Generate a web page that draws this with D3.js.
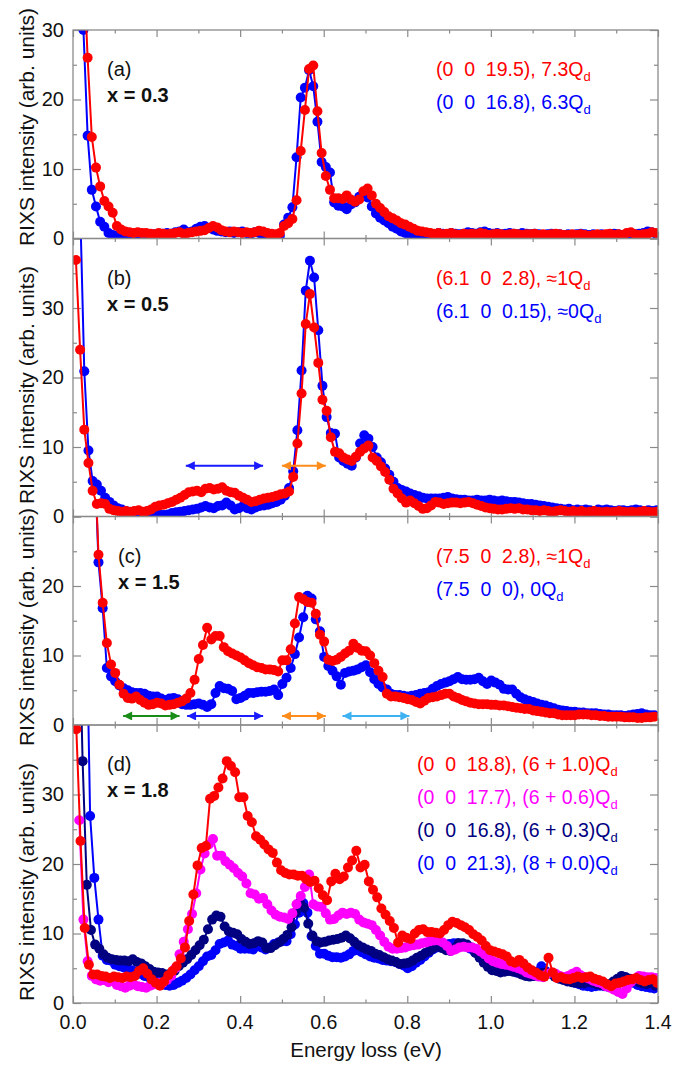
<!DOCTYPE html>
<html>
<head>
<meta charset="utf-8">
<script src="https://cdnjs.cloudflare.com/ajax/libs/d3/7.8.5/d3.min.js"></script>
<style>
  body { margin: 0; background: #fff; }
  text { font-family: "Liberation Sans", Arial, sans-serif; }
</style>
</head>
<body>
<svg id="chart" width="700" height="1066"></svg>
<script>
var STEP = 0.01;

// (a) x = 0.3
var aRedStart = 0.025;
var aRed = [40, 26, 14.6, 10.2, 7.5, 5.4, 4.6, 3.7, 1.8, 1.3,
  1.0, 0.9, 0.8, 0.9, 0.8, 0.8, 0.7, 0.6, 0.8, 0.7,
  0.6, 0.7, 0.8, 0.9, 0.7, 0.8, 0.9, 1.0, 1.1, 1.2,
  1.5, 1.8, 1.6, 1.2, 1.0, 0.9, 1.0, 0.9, 0.8, 0.9,
  0.8, 0.9, 1.1, 1.0, 0.8, 0.7, 0.6, 0.8, 1.8, 2.2,
  2.8, 5.5, 12.6, 18.5, 24.4, 24.9, 18.3, 12.3, 9.0, 7.0,
  5.8, 5.8, 5.7, 6.2, 5.6, 5.3, 5.6, 6.8, 7.2, 6.2,
  5.0, 4.4, 3.8, 3.2, 2.9, 2.6, 2.2, 2.0, 1.7, 1.4,
  1.1, 1.0, 0.9, 0.8,
  0.7, 0.8, 0.6, 0.7, 0.8, 0.6, 0.5, 0.7, 0.6, 0.7,
  0.6, 0.8, 0.7, 0.5, 0.6, 0.7, 0.6, 0.5, 0.6, 0.7,
  0.6, 0.5, 0.6, 0.6, 0.7, 0.5, 0.6, 0.5, 0.6, 0.7,
  0.6, 0.5, 0.5, 0.6, 0.5, 0.6, 0.5, 0.4, 0.5, 0.6,
  0.5, 0.6, 0.7, 0.5, 0.6, 0.5, 0.8, 0.9, 0.6, 0.5,
  0.6, 0.7, 0.9, 0.8];
var aBlueStart = 0.015;
var aBlue = [60, 30, 14.8, 7.0, 4.6, 2.4, 1.7, 0.8, 0.5, 0.4,
  0.3, 0.4, 0.3, 0.5, 0.4, 0.3, 0.4, 0.5, 0.6, 0.5,
  0.7, 0.8, 0.7, 0.9, 1.0, 1.3, 0.9, 1.0, 1.4, 1.7,
  1.8, 1.5, 1.3, 1.1, 1.0, 0.9, 1.0, 0.8, 0.9, 1.0,
  0.8, 0.7, 0.9, 0.8, 0.6, 0.7, 0.5, 0.4, 0.4, 2.0,
  3.0, 4.5, 11.7, 20.3, 21.7, 24.2, 21.9, 16.8, 11.0, 10.3,
  9.5, 5.2, 4.7, 4.6, 4.2, 4.9, 5.2, 6.0, 6.4, 5.9,
  4.6, 3.6, 3.0, 2.6, 2.2, 1.7, 1.4, 1.0, 0.8, 0.5,
  0.4, 0.2, 0.3, 0.5,
  0.7, 0.6, 0.8, 0.7, 0.6, 0.8, 0.7, 0.6, 0.7, 0.9,
  0.8, 0.7, 0.9, 1.0, 0.8, 0.7, 0.8, 0.6, 0.7, 0.8,
  0.7, 0.6, 0.8, 0.7, 0.6, 0.7, 0.6, 0.5, 0.6, 0.7,
  0.6, 0.6, 0.5, 0.6, 0.5, 0.6, 0.7, 0.6, 0.5, 0.6,
  0.5, 0.6, 0.5, 0.6, 0.7, 0.6, 0.5, 0.6, 0.5, 0.6,
  0.7, 0.8, 1.0, 0.9, 0.7];

// (b) x = 0.5
var bRedStart = 0.007;
var bRed = [36.9, 24.0, 12.5, 7.7, 3.7, 1.8, 1.9, 1.8, 1.1, 0.9,
  0.8, 0.7, 0.8, 0.7, 0.8, 0.9, 0.7, 0.8, 1.0, 1.4,
  1.6, 1.7, 1.9, 2.1, 2.4, 2.7, 3.1, 3.5, 3.6, 3.7,
  3.5, 4.0, 4.1, 3.9, 4.0, 4.2, 3.7, 3.5, 3.4, 3.0,
  2.7, 2.4, 2.1, 2.2, 2.4, 2.6, 2.7, 2.8, 3.0, 3.2,
  3.3, 3.6, 5.7, 10.5, 17.7, 27.7, 32.0, 27.2, 22.1, 16.8,
  15.2, 11.4, 9.3, 9.1, 8.5, 8.2, 8.0, 8.6, 9.3, 9.8,
  10.2, 8.5, 8.0, 7.2, 6.4, 5.3, 4.0, 3.3, 2.6, 2.0,
  2.3, 1.9, 1.5, 1.1, 1.2, 1.6, 2.1, 2.0, 1.8, 1.9,
  2.0, 2.0, 1.9, 2.0, 2.1, 1.9, 1.7, 1.5, 1.3, 1.2,
  1.1, 1.0, 1.0, 1.1, 1.2, 1.1, 1.2, 1.0, 1.0, 0.9,
  0.9, 0.8, 0.9, 0.8, 0.7, 0.8, 0.9, 0.8, 0.7, 0.8,
  0.7, 0.8, 0.6, 0.7, 0.8, 0.7, 0.6, 0.7, 0.6, 0.7,
  0.8, 0.7, 0.6, 0.7, 0.6, 0.7, 0.8, 0.7, 0.6, 0.7];
var bBlueStart = 0.017;
var bBlue = [45, 20.9, 9.5, 5.1, 4.6, 3.7, 2.7, 2.1, 1.6, 1.2,
  1.0, 0.8, 0.6, 0.7, 0.5, 0.6, 0.5, 0.4, 0.5, 0.3,
  0.2, 0.3, 0.5, 0.6, 0.7, 0.8, 0.9, 1.0, 1.1, 1.3,
  1.5, 1.3, 1.2, 1.5, 1.6, 2.0, 1.6, 1.0, 1.2, 1.5,
  1.2, 1.0, 1.3, 1.5, 1.6, 1.7, 1.9, 2.1, 2.4, 3.0,
  4.1, 6.5, 12.4, 21.0, 32.5, 36.8, 34.4, 26.8, 18.8, 14.3,
  12.0, 11.9, 8.5, 8.0, 7.6, 7.3, 8.5, 10.5, 11.7, 11.2,
  10.0, 8.5, 7.8, 6.9, 6.0, 5.0, 4.1, 3.8, 3.6, 3.3,
  3.1, 2.9, 2.7, 2.6, 2.6, 2.6, 2.6, 2.7, 2.8, 2.6,
  2.5, 2.4, 2.4, 2.3, 2.3, 2.4, 2.3, 2.3, 2.4, 2.3,
  2.2, 2.3, 2.2, 2.1, 2.1, 2.0, 1.9, 1.8, 1.8, 1.7,
  1.6, 1.5, 1.4, 1.3, 1.2,
  1.1, 1.0, 1.1, 0.9, 1.0, 0.9, 1.0, 0.9, 0.8, 1.0,
  0.9, 1.0, 0.9, 0.8, 0.9, 0.9, 0.8, 0.9, 1.0, 0.9,
  0.8, 0.9, 0.8, 0.9];

// (c) x = 1.5
var cRedStart = 0.051;
var cRed = [40, 24.5, 17.6, 11.8, 8.7, 7.5, 5.8, 4.5, 3.9, 3.8,
  4.1, 3.6, 3.2, 2.9, 3.0, 3.2, 3.1, 2.8, 2.9, 3.0,
  3.2, 3.4, 3.8, 4.6, 6.5, 9.5, 11.5, 14.0, 12.3, 12.8,
  12.8, 11.2, 10.6, 10.3, 10.0, 9.7, 9.3, 8.9, 8.6, 8.3,
  8.2, 8.0, 8.0, 7.9, 7.7, 9.3, 9.3, 10.9, 14.6, 18.4,
  18.1, 17.7, 17.6, 16.0, 13.0, 12.0, 9.4, 9.2, 9.4, 9.8,
  10.3, 10.7, 11.7, 11.1, 10.7, 10.6, 10.0, 8.9, 7.8, 6.9,
  4.5, 4.1, 4.1, 4.0, 3.9, 3.7, 3.6, 3.3, 3.1, 3.5,
  3.9, 4.0, 4.1, 4.3, 4.5, 4.5, 4.1, 3.9, 3.6, 3.4,
  3.2, 3.1, 3.0, 3.0, 3.0, 2.9, 2.9, 2.8, 2.8, 2.7,
  2.6, 2.5, 2.4, 2.3, 2.3, 2.1, 2.0, 1.9, 1.8, 1.7,
  1.7, 1.5, 1.4, 1.4, 1.4, 1.4, 1.5, 1.5, 1.5, 1.4,
  1.4, 1.3, 1.3, 1.2, 1.2, 1.2, 1.2, 1.1, 1.1, 1.1,
  1.0, 1.0, 1.1, 1.1, 1.2];
var cBlueStart = 0.051;
var cBlue = [40, 23.4, 16.8, 8.2, 7.0, 6.3, 5.7, 5.3, 5.0, 4.7,
  4.6, 4.6, 4.5, 4.2, 4.1, 4.1, 3.8, 3.6, 3.8, 3.9,
  3.7, 3.0, 2.9, 2.9, 3.0, 3.1, 2.9, 2.6, 3.0, 4.6,
  5.6, 5.3, 5.2, 4.9, 3.7, 3.9, 4.2, 4.6, 4.6, 4.7,
  4.8, 4.8, 4.9, 5.1, 4.3, 5.9, 6.8, 8.2, 10.2, 12.6,
  15.5, 18.6, 18.2, 15.2, 13.5, 9.8, 8.5, 7.8, 7.0, 5.8,
  7.5, 7.7, 7.8, 8.0, 8.3, 8.6, 7.6, 6.6, 5.9, 5.4,
  5.1, 4.5, 4.3, 4.3, 4.2, 4.1, 4.2, 4.3, 4.5, 4.6,
  4.7, 5.2, 5.6, 5.9, 6.1, 6.3, 6.6, 6.9, 6.6, 6.5,
  6.5, 6.6, 6.8, 6.3, 5.9, 6.4, 6.1, 5.8, 5.2, 5.1,
  5.1, 4.5, 4.0, 3.7, 3.5, 3.3, 3.1, 2.9, 2.8, 2.6,
  2.4, 2.2, 2.1, 2.0, 1.9, 1.9, 1.8, 1.8, 1.7, 1.7,
  1.7, 1.6, 1.5, 1.5, 1.4, 1.4, 1.4, 1.3, 1.4, 1.5,
  1.6, 1.7, 1.5, 1.4, 1.4];

// (d) x = 1.8
var dRedStart = 0.008;
var dRed = [39.4, 23.3, 10.8, 5.5, 4.1, 4.1, 3.9, 3.8, 3.6, 3.8,
  3.7, 3.6, 3.8, 3.7, 3.9, 4.6, 5.0, 4.2, 3.4, 2.9,
  2.5, 3.1, 4.0, 4.6, 5.3, 6.4, 8.0, 11.8, 15.6, 19.8,
  22.3, 22.6, 29.4, 29.8, 31.0, 32.3, 34.8, 34.1, 33.2, 29.6,
  29.6, 26.9, 26.0, 24.0, 23.5, 22.8, 22.1, 21.6, 20.2, 19.1,
  18.7, 18.5, 18.5, 18.3, 18.3, 17.8, 17.4, 17.6, 16.5, 15.5,
  14.8, 17.5, 18.6, 17.8, 18.2, 19.5, 20.5, 21.9, 19.5, 19.9,
  17.5, 16.3, 15.2, 13.6, 12.7, 11.8, 10.8, 8.7, 9.7, 9.4,
  9.2, 10.0, 10.5, 10.6, 10.2, 10.2, 10.1, 10.0, 10.5, 11.2,
  11.7, 11.5, 11.2, 10.9, 10.5, 9.9, 9.5, 9.0, 8.2, 7.6,
  7.4, 7.2, 7.0, 6.7, 6.0, 5.8, 6.2, 5.7, 5.1, 4.7,
  4.4, 4.0, 3.8, 6.5, 4.4, 3.6, 3.7, 3.5, 3.4, 3.6,
  3.8, 3.6, 3.7, 3.8, 3.5, 3.3, 3.1, 2.7, 2.4, 2.8,
  2.9, 3.1, 3.3, 3.4, 3.6, 3.3, 3.1, 3.3, 3.4, 2.9];
var dMagentaStart = 0.015;
var dMagenta = [26.3, 12.0, 6.0, 3.9, 3.4, 3.2, 3.3, 3.0, 3.2, 2.6,
  2.4, 2.2, 2.5, 2.7, 2.4, 2.3, 2.2, 2.5, 2.7, 2.9,
  2.9, 3.3, 3.9, 5.0, 7.0, 8.8, 10.6, 12.8, 15.8, 19.2,
  21.5, 22.8, 23.6, 21.2, 21.2, 20.4, 19.9, 19.4, 18.7, 18.2,
  17.2, 15.8, 15.6, 15.0, 15.1, 14.2, 13.3, 12.7, 12.4, 12.3,
  12.1, 12.9, 14.2, 15.4, 16.7, 18.5, 14.2, 13.9, 13.8, 12.9,
  12.0, 12.1, 12.6, 13.0, 12.8, 13.0, 12.8, 12.0, 11.6, 11.4,
  11.2, 10.5, 9.7, 8.8, 8.1, 7.8, 7.8, 7.9, 8.0, 8.2,
  8.3, 8.4, 8.6, 8.7, 8.9, 9.0, 9.0, 8.7, 8.2, 7.5,
  7.7, 8.0, 8.1, 8.0, 8.0, 7.8, 7.4, 7.0, 6.4, 6.0,
  5.8, 5.6, 5.5, 5.4, 5.2, 5.0, 4.8, 4.4, 4.2, 4.0,
  3.8, 3.7, 4.2, 4.4, 4.2, 3.9, 3.7, 3.9, 4.2, 4.5,
  4.0, 3.7, 3.5, 3.2, 3.0, 2.8, 2.4, 2.2, 1.9, 1.6,
  1.3, 2.1, 3.0, 3.5, 3.9, 3.8, 3.7, 3.7, 3.6];
var dNavyStart = 0.013;
var dNavy = [60, 34.8, 17.0, 10.5, 8.4, 7.8, 7.0, 6.5, 6.3, 6.2,
  6.1, 6.1, 6.0, 6.3, 5.9, 5.7, 5.3, 4.9, 4.5, 4.4,
  4.3, 4.1, 4.2, 4.6, 5.3, 5.8, 6.3, 6.9, 7.6, 8.3,
  9.1, 10.6, 12.0, 12.6, 12.4, 11.0, 10.3, 10.1, 9.9, 9.2,
  8.8, 8.5, 8.6, 8.9, 8.7, 7.9, 7.9, 8.3, 8.7, 9.2,
  9.8, 10.9, 13.0, 14.5, 13.7, 11.4, 9.7, 8.9, 8.7, 8.8,
  9.0, 9.1, 9.2, 9.4, 9.7, 9.3, 8.8, 8.3, 8.0, 7.7,
  7.5, 7.1, 6.9, 6.6, 6.3, 6.1, 5.9, 5.6, 5.7, 5.8,
  6.1, 6.5, 6.8, 7.2, 7.5, 7.9, 8.2, 7.9, 7.6, 7.5,
  7.9, 8.6, 8.6, 8.4, 8.0, 7.2, 6.5, 5.8, 5.2, 4.7,
  4.6, 4.4, 4.5, 4.6, 4.5, 4.4, 4.1, 3.9, 3.8, 3.9,
  4.1, 4.3, 4.4, 4.2, 3.8, 3.5, 3.3, 3.1, 3.0, 2.9,
  2.8, 2.8, 3.0, 2.9, 2.7, 2.6, 2.5, 2.7, 3.1, 3.5,
  3.9, 3.7, 3.5, 3.2, 3.0, 2.8, 2.7, 2.9, 2.5];
var dBlueStart = 0.031;
var dBlue = [60, 26.9, 18.0, 12.0, 6.8, 6.2, 6.1, 5.5, 5.3, 5.1,
  4.9, 4.7, 4.5, 4.2, 3.9, 3.7, 3.4, 3.1, 2.9, 2.6,
  2.5, 2.6, 2.9, 3.2, 3.6, 4.1, 4.7, 5.3, 6.0, 6.7,
  6.9, 7.6, 8.5, 8.7, 9.0, 8.4, 8.2, 7.8, 7.8, 7.8,
  7.7, 8.2, 8.0, 7.7, 8.0, 8.5, 8.7, 8.9, 8.9, 9.9,
  11.3, 13.0, 14.4, 13.0, 9.6, 8.2, 7.1, 7.1, 6.8, 6.6,
  6.6, 6.5, 6.7, 7.0, 7.5, 7.6, 7.3, 7.0, 6.7, 6.5,
  6.4, 6.2, 6.1, 6.0, 5.9, 5.6, 5.4, 5.0, 5.3, 5.8,
  6.2, 6.7, 7.2, 7.7, 8.0, 8.2, 8.4, 8.5, 8.6, 8.6,
  8.4, 8.1, 7.8, 7.4, 7.0, 6.5, 6.1, 5.6, 5.3, 5.1,
  5.0, 4.9, 4.7, 4.4, 4.3, 4.2, 4.0, 3.9, 4.5, 5.3,
  4.6, 4.3, 4.0, 3.8, 3.6, 3.4, 3.2, 2.9, 2.7, 2.5,
  2.4, 2.3, 2.4, 2.5, 2.4, 2.3, 2.4, 2.6, 3.2, 3.7,
  3.3, 2.9, 2.6, 2.4, 2.3, 2.2, 2.1];

// energy ranges marked by the double arrows [from, to, level, colour]
var bArrows = [[0.27, 0.455, 7.3, "#1a1aff"], [0.50, 0.605, 7.3, "#ff8c1a"]];
var cArrows = [[0.12, 0.255, 1.3, "#1a8c1a"], [0.273, 0.455, 1.3, "#1a1aff"],
               [0.50, 0.605, 1.3, "#ff8c1a"], [0.645, 0.805, 1.3, "#3fb2f2"]];

var xTicks = [0, 0.2, 0.4, 0.6, 0.8, 1.0, 1.2, 1.4];

var RED = "#ff0000", BLUE = "#0000ff", MAG = "#ff00ff", NAVY = "#000080";

var panels = [
  { ymax: 30, yLabels: [0, 10, 20, 30], tag: "(a)", comp: "x = 0.3", tagX: 107, labY: 127,
    series: [[aBlueStart, aBlue, BLUE], [aRedStart, aRed, RED]],
    legX: 436, legend: [["(0  0  19.5), 7.3Q", RED], ["(0  0  16.8), 6.3Q", BLUE]], arrows: [] },
  { ymax: 40, yLabels: [0, 10, 20, 30], tag: "(b)", comp: "x = 0.5", tagX: 107, labY: 385,
    series: [[bBlueStart, bBlue, BLUE], [bRedStart, bRed, RED]],
    legX: 436, legend: [["(6.1  0  2.8), \u22481Q", RED], ["(6.1  0  0.15), \u22480Q", BLUE]], arrows: bArrows },
  { ymax: 30, yLabels: [0, 10, 20], tag: "(c)", comp: "x = 1.5", tagX: 118, labY: 627,
    series: [[cBlueStart, cBlue, BLUE], [cRedStart, cRed, RED]],
    legX: 436, legend: [["(7.5  0  2.8), \u22481Q", RED], ["(7.5  0  0), 0Q", BLUE]], arrows: cArrows },
  { ymax: 40, yLabels: [0, 10, 20, 30], tag: "(d)", comp: "x = 1.8", tagX: 107, labY: 882,
    series: [[dBlueStart, dBlue, BLUE], [dNavyStart, dNavy, NAVY], [dMagentaStart, dMagenta, MAG], [dRedStart, dRed, RED]],
    legX: 417, legend: [["(0  0  18.8), (6 + 1.0)Q", RED], ["(0  0  17.7), (6 + 0.6)Q", MAG],
                        ["(0  0  16.8), (6 + 0.3)Q", NAVY], ["(0  0  21.3), (8 + 0.0)Q", BLUE]], arrows: [] }
];

var left = 73, right = 658, top0 = 30, unit = 6.95;
var frameColor = "#8a8a8a";

var svg = d3.select("#chart");
var x = d3.scaleLinear().domain([0, 1.4]).range([left, right]);

var defs = svg.append("defs");

var yTop = top0;
panels.forEach(function (p, k) {
  var h = p.ymax * unit;
  var y = d3.scaleLinear().domain([0, p.ymax]).range([yTop + h, yTop]);
  var g = svg.append("g");

  defs.append("clipPath").attr("id", "clip" + k)
    .append("rect").attr("x", left).attr("y", yTop).attr("width", right - left).attr("height", h);

  var majorY = d3.range(0, p.ymax + 0.1, 10);
  var minorY = d3.range(5, p.ymax, 10);
  var minorX = d3.range(0.1, 1.4, 0.2);

  // ticks, all pointing inwards
  function tickAxis(axis, scale, vals, len, tx, ty) {
    g.append("g").attr("transform", "translate(" + tx + "," + ty + ")")
      .call(axis(scale).tickValues(vals).tickSize(-len).tickSizeOuter(0).tickFormat(""))
      .call(function (s) { s.select(".domain").remove(); s.selectAll("line").attr("stroke", frameColor).attr("stroke-width", 1.2); });
  }
  tickAxis(d3.axisBottom, x, xTicks, 7, 0, yTop + h);
  tickAxis(d3.axisBottom, x, minorX, 3.5, 0, yTop + h);
  tickAxis(d3.axisTop, x, xTicks, 7, 0, yTop);
  tickAxis(d3.axisTop, x, minorX, 3.5, 0, yTop);
  tickAxis(d3.axisLeft, y, majorY, 8, left, 0);
  tickAxis(d3.axisLeft, y, minorY, 4, left, 0);
  tickAxis(d3.axisRight, y, majorY, 8, right, 0);
  tickAxis(d3.axisRight, y, minorY, 4, right, 0);

  // y tick labels
  g.append("g").attr("transform", "translate(" + left + ",0)")
    .call(d3.axisLeft(y).tickValues(p.yLabels).tickSize(0).tickPadding(9).tickFormat(d3.format("d")))
    .call(function (s) {
      s.select(".domain").remove();
      s.selectAll("text").attr("font-size", 20).attr("fill", "#111")
        .style("font-family", '"Liberation Sans", Arial, sans-serif');
    });

  // y axis title
  svg.append("text")
    .attr("transform", "translate(34," + p.labY + ") rotate(-90)")
    .attr("text-anchor", "middle").attr("font-size", 21).attr("fill", "#111")
    .text("RIXS intensity (arb. units)");

  // data
  var plot = g.append("g").attr("clip-path", "url(#clip" + k + ")");
  p.series.forEach(function (s) {
    var pts = s[1].map(function (v, i) { return [s[0] + i * STEP, v]; });
    plot.append("path").datum(pts)
      .attr("fill", "none").attr("stroke", s[2]).attr("stroke-width", 2)
      .attr("d", d3.line().x(function (d) { return x(d[0]); }).y(function (d) { return y(d[1]); }));
    plot.append("g").selectAll("circle").data(pts).enter().append("circle")
      .attr("cx", function (d) { return x(d[0]); })
      .attr("cy", function (d) { return y(d[1]); })
      .attr("r", 5).attr("fill", s[2]);
  });

  // arrows
  p.arrows.forEach(function (a, j) {
    var id = "ah" + k + "_" + j;
    defs.append("marker").attr("id", id).attr("viewBox", "0 0 10 10")
      .attr("refX", 10).attr("refY", 5).attr("markerUnits", "userSpaceOnUse")
      .attr("markerWidth", 11).attr("markerHeight", 9).attr("orient", "auto-start-reverse")
      .append("path").attr("d", "M0,0L10,5L0,10z").attr("fill", a[3]);
    g.append("line")
      .attr("x1", x(a[0])).attr("x2", x(a[1])).attr("y1", y(a[2])).attr("y2", y(a[2]))
      .attr("stroke", a[3]).attr("stroke-width", 2)
      .attr("marker-start", "url(#" + id + ")").attr("marker-end", "url(#" + id + ")");
  });

  // frame
  g.append("rect").attr("x", left).attr("y", yTop).attr("width", right - left).attr("height", h)
    .attr("fill", "none").attr("stroke", frameColor).attr("stroke-width", 1.3);

  // panel tag and composition
  g.append("text").attr("x", p.tagX).attr("y", yTop + 46).attr("font-size", 20).attr("fill", "#111").text(p.tag);
  g.append("text").attr("x", p.tagX).attr("y", yTop + 72).attr("font-size", 20).attr("font-weight", "bold")
    .attr("fill", "#111").text(p.comp);

  // legend
  p.legend.forEach(function (l, j) {
    var t = g.append("text").attr("x", p.legX).attr("y", yTop + 46 + j * 33)
      .attr("font-size", 19.5).attr("fill", l[1]).style("white-space", "pre");
    t.append("tspan").text(l[0]);
    t.append("tspan").attr("font-size", 13).attr("dy", 5).text("d");
  });

  yTop += h;
});

// x axis labels
svg.append("g").attr("transform", "translate(0," + (yTop + 26) + ")")
  .selectAll("text").data(xTicks).enter().append("text")
  .attr("x", function (d) { return x(d); })
  .attr("text-anchor", "middle").attr("font-size", 19.5).attr("fill", "#111")
  .text(d3.format(".1f"));

svg.append("text").attr("x", 366).attr("y", yTop + 54)
  .attr("text-anchor", "middle").attr("font-size", 20.5).attr("fill", "#111")
  .text("Energy loss (eV)");
</script>
</body>
</html>
